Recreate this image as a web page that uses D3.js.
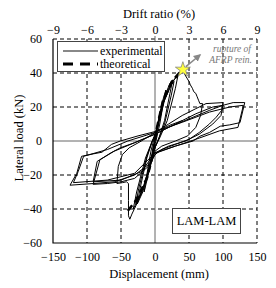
<!DOCTYPE html>
<html>
<head>
<meta charset="utf-8">
<script src="https://cdn.jsdelivr.net/npm/d3@7"></script>
<style>
  body { margin: 0; background: #fff; }
  svg text { font-family: "Liberation Serif", "Times New Roman", serif !important; }
</style>
</head>
<body>
<script>
// Axis ticks
const dispTicks = [-150, -100, -50, 0, 50, 100, 150];
const loadTicks = [-60, -40, -20, 0, 20, 40, 60];
const driftTicks = [-9, -6, -3, 0, 3, 6, 9];

// Experimental hysteresis (displacement mm, load kN)
const expDisp = [
  0, 4, 8, 6, 2, -1, -4, -8, -6, -2, 0,
  3, 10, 16, 13, 7, 2, -3, -10, -16, -13, -6, -1,
  4, 14, 22, 26, 22, 14, 6, 0, -8, -18, -26, -22, -12, -4, 0,
  4, 14, 24, 28, 24, 14, 5, 0, -8, -18, -28, -24, -12, -4, 0,
  12, 24, 34, 30, 18, 6, -2, -12, -24, -32, -27, -14, -4, 0,
  10, 20, 30, 36, 41, 44, 47, 50, 52, 55, 57, 60, 62, 64, 66, 70, 67, 60, 48, 30, 10, 0,
  -8, -18, -28, -34, -37, -39, -39, -39, -42, -48, -56, -54, -48, -38, -20, 0,
  20, 40, 60, 75, 100, 98, 90, 80, 65, 50, 30, 10, 0, -10, -30, -50, -70, -91, -81, -65, -51, -30, 0,
  30, 60, 85, 100, 97, 85, 65, 45, 20, 0, -20, -50, -91, -85, -60, -30, 0,
  20, 50, 80, 100, 115, 132, 125, 110, 96, 80, 66, 56, 30, 2, -10, -30, -60, -90, -125, -115, -108, -90, -78, -64, -51, -25, 2.5,
  40, 80, 110, 130, 122, 95, 60, 30, 0, -30, -70, -120, -113, -105, -70, -40, 0, 20, 40
];
const expLoad = [
  0, 10, 18, 13, 4, -2, -9, -17, -11, -2, 1,
  8, 22, 30, 24, 10, 1, -6, -20, -30, -22, -6, 2,
  10, 26, 34, 36, 28, 12, 2, -4, -16, -30, -37, -28, -10, 0, 4,
  8, 24, 33, 35, 27, 10, 1, -4, -15, -28, -37, -28, -9, 0, 3,
  22, 34, 39, 31, 12, 1, -5, -22, -34, -40, -30, -10, 0, 3,
  20, 31, 37, 40, 42, 39, 37, 35, 33, 31, 29, 28, 26, 24, 22, 22, 15, 8, 3, 0, -3, -6,
  -16, -29, -38, -43, -46, -44, -35, -25, -24, -24.5, -25, -15, -8, -4, 0, 5,
  10, 15, 19, 22, 22.6, 18, 14, 10, 5, 1, -2, -5, -8, -15, -22, -24, -25, -25.5, -11, -7, -4, -1, 4,
  10, 16, 20, 21, 15, 10, 4, 0, -3, -7, -18, -23, -24, -12, -6, -1, 4,
  8, 13, 18, 21, 22.6, 22.6, 10.8, 9.5, 8.7, 5, 2.8, 0, -3, -7, -14, -20, -24, -25, -26, -19, -9, -7.5, -6.6, -2, 0, 3, 5.8,
  11, 17, 20, 21, 8, 6, 1, -3, -7, -19, -23, -24.5, -18, -9, -5, 0, 5, 9, 12
];

// Theoretical envelope
const theoDisp = [-40, -28, -12, -3, 0, 3, 12, 25, 40];
const theoLoad = [-41, -35, -22, -8, 0, 8, 24, 35, 42];

const rupture = [41, 42];

const W = 276, H = 288;
const m = { left: 53, right: 257, top: 39, bottom: 243 };
const serif = '"Liberation Serif", "Times New Roman", serif';

const svg = d3.select("body").append("svg")
  .attr("width", W)
  .attr("height", H)
  .style("font-family", serif);

const x = d3.scaleLinear().domain([-150, 150]).range([m.left, m.right]);
const xDrift = d3.scaleLinear().domain([-9, 9]).range([m.left, m.right]);
const y = d3.scaleLinear().domain([-60, 60]).range([m.bottom, m.top]);

// grid
const grid = svg.append("g")
  .attr("stroke", "#000")
  .attr("stroke-width", 1)
  .attr("stroke-dasharray", "4,3");

grid.selectAll(".gx")
  .data(dispTicks.filter(d => d !== 0 && d !== -150))
  .enter().append("line")
  .attr("x1", d => x(d)).attr("x2", d => x(d))
  .attr("y1", m.top).attr("y2", m.bottom);

grid.selectAll(".gy")
  .data(loadTicks.filter(d => d !== 0 && d !== -60))
  .enter().append("line")
  .attr("x1", m.left).attr("x2", m.right)
  .attr("y1", d => y(d)).attr("y2", d => y(d));

// zero lines
svg.append("line")
  .attr("x1", x(0)).attr("x2", x(0))
  .attr("y1", m.top - 3).attr("y2", m.bottom)
  .attr("stroke", "#666").attr("stroke-width", 1);
svg.append("line")
  .attr("x1", m.left).attr("x2", m.right)
  .attr("y1", y(0)).attr("y2", y(0))
  .attr("stroke", "#666").attr("stroke-width", 1);

// left & bottom frame
svg.append("path")
  .attr("d", `M${m.left},${m.top}V${m.bottom}H${m.right}`)
  .attr("fill", "none")
  .attr("stroke", "#000")
  .attr("stroke-width", 1.2);

// axes
const xAxis = svg.append("g")
  .attr("transform", `translate(0,${m.bottom})`)
  .call(d3.axisBottom(x).tickValues(dispTicks).tickSize(0).tickPadding(9));
const xTop = svg.append("g")
  .attr("transform", `translate(0,${m.top})`)
  .call(d3.axisTop(xDrift).tickValues(driftTicks).tickSize(0).tickPadding(5));
const yAxis = svg.append("g")
  .attr("transform", `translate(${m.left},0)`)
  .call(d3.axisLeft(y).tickValues(loadTicks).tickSize(0).tickPadding(11));

[xAxis, xTop, yAxis].forEach(a => {
  a.attr("font-family", null).attr("font-size", null);
  a.select(".domain").remove();
  a.selectAll("text")
    .style("font-family", serif)
    .style("font-size", "12px")
    .attr("fill", "#000");
});

// titles
svg.append("text")
  .text("Drift ratio (%)")
  .attr("x", 159).attr("y", 18)
  .attr("text-anchor", "middle")
  .style("font-size", "12.5px");

svg.append("text")
  .text("Displacement (mm)")
  .attr("x", 159).attr("y", 278)
  .attr("text-anchor", "middle")
  .style("font-size", "12.5px");

svg.append("text")
  .text("Lateral load (kN)")
  .attr("transform", "translate(23,138) rotate(-90)")
  .attr("text-anchor", "middle")
  .style("font-size", "12.5px");

// curves
const line = d3.line()
  .x(d => x(d[0]))
  .y(d => y(d[1]));

const expPts = expDisp.map((d, i) => [d, expLoad[i]]);
const theoPts = theoDisp.map((d, i) => [d, theoLoad[i]]);

svg.append("path")
  .datum(theoPts)
  .attr("d", line)
  .attr("fill", "none")
  .attr("stroke", "#000")
  .attr("stroke-width", 2.6)
  .attr("stroke-dasharray", "7,4");

svg.append("path")
  .datum(expPts)
  .attr("d", line)
  .attr("fill", "none")
  .attr("stroke", "#000")
  .attr("stroke-width", 1)
  .attr("stroke-linejoin", "round");

// rupture annotation
svg.append("defs").append("marker")
  .attr("id", "arr")
  .attr("viewBox", "0 0 10 10")
  .attr("refX", 8).attr("refY", 5)
  .attr("markerWidth", 5).attr("markerHeight", 5)
  .attr("orient", "auto")
  .append("path")
  .attr("d", "M0,0L10,5L0,10z")
  .attr("fill", "#888");

svg.append("line")
  .attr("x1", x(rupture[0]) + 3).attr("y1", y(rupture[1]) - 3)
  .attr("x2", 200).attr("y2", 55)
  .attr("stroke", "#888")
  .attr("stroke-width", 1.5)
  .attr("marker-end", "url(#arr)");

svg.append("path")
  .attr("d", d3.symbol().type(d3.symbolStar).size(70))
  .attr("transform", `translate(${x(rupture[0])},${y(rupture[1])})`)
  .attr("fill", "#ffff40")
  .attr("stroke", "#777")
  .attr("stroke-width", 0.7);

svg.append("text")
  .text("rupture of")
  .attr("x", 251).attr("y", 52)
  .attr("text-anchor", "end")
  .style("font-size", "9.5px")
  .attr("font-style", "italic")
  .attr("fill", "#777");
svg.append("text")
  .text("AFRP rein.")
  .attr("x", 252).attr("y", 63)
  .attr("text-anchor", "end")
  .style("font-size", "9.5px")
  .attr("font-style", "italic")
  .attr("fill", "#777");

// legend
const lg = svg.append("g");
lg.append("rect")
  .attr("x", 57.5).attr("y", 41.5)
  .attr("width", 107).attr("height", 30)
  .attr("fill", "#fff")
  .attr("stroke", "#444");
lg.append("line")
  .attr("x1", 63).attr("x2", 98).attr("y1", 51).attr("y2", 51)
  .attr("stroke", "#888").attr("stroke-width", 1.8);
lg.append("line")
  .attr("x1", 63).attr("x2", 98).attr("y1", 64).attr("y2", 64)
  .attr("stroke", "#000").attr("stroke-width", 3)
  .attr("stroke-dasharray", "10,7");
lg.append("text").text("experimental")
  .attr("x", 100).attr("y", 55).style("font-size", "12px");
lg.append("text").text("theoretical")
  .attr("x", 100).attr("y", 68).style("font-size", "12px");

// specimen label
svg.append("rect")
  .attr("x", 172.5).attr("y", 208.5)
  .attr("width", 68).attr("height", 25)
  .attr("fill", "#fff")
  .attr("stroke", "#444");
svg.append("text")
  .text("LAM-LAM")
  .attr("x", 206.5).attr("y", 225)
  .attr("text-anchor", "middle")
  .style("font-size", "12.5px");
</script>
</body>
</html>
